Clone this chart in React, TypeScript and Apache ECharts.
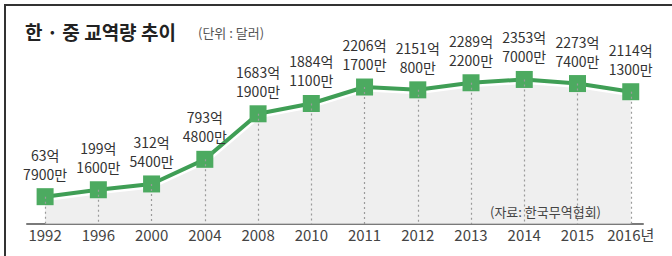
import React, { useEffect, useRef } from "react";
import * as echarts from "echarts";

const years = ["1992", "1996", "2000", "2004", "2008", "2010", "2011", "2012", "2013", "2014", "2015", "2016년"];
const eok = [63, 199, 312, 793, 1683, 1884, 2206, 2151, 2289, 2353, 2273, 2114];
const man = [7900, 1600, 5400, 4800, 1900, 1100, 1700, 800, 2200, 7000, 7400, 1300];
const title = "한 · 중 교역량 추이";
const unitText = "(단위 : 달러)";
const sourceText = "(자료: 한국무역협회)";

const KR = "'Noto Sans CJK KR', sans-serif";

export default function App() {
  const ref = useRef<HTMLDivElement>(null);
  useEffect(() => {
    if (!ref.current) return;
    const chart = echarts.init(ref.current, null, { renderer: "svg" });
    const values = eok.map((e, i) => e + man[i] / 10000);
    const pts = values.map((v, i) => [i, v]);
    const yMin = -470;
    chart.setOption({
      animation: false,
      backgroundColor: "#ffffff",
      grid: { left: 27, right: 29, top: 30, bottom: 32 },
      xAxis: {
        type: "value",
        min: -0.34,
        max: 11.23,
        axisLine: { show: true, onZero: false, lineStyle: { color: "#7a7a7a", width: 2 } },
        axisTick: { show: false },
        splitLine: { show: false },
        axisLabel: {
          customValues: years.map((_, i) => i),
          formatter: (v: number) => years[Math.round(v)] ?? "",
          color: "#444",
          fontSize: 15,
          fontFamily: KR,
          margin: 3,
        },
      },
      yAxis: {
        type: "value",
        min: yMin,
        max: 3320,
        show: false,
        splitLine: { show: false },
      },
      graphic: [
        {
          type: "rect",
          shape: { x: 5, y: 5, width: 720, height: 300 },
          style: { fill: "none", stroke: "#333", lineWidth: 2 },
          z: 10,
        },
        {
          type: "text",
          x: 25,
          y: 31,
          style: { text: title, font: `bold 19px ${KR}`, fill: "#222", verticalAlign: "middle" },
        },
        {
          type: "text",
          x: 198,
          y: 32,
          style: { text: unitText, font: `13px ${KR}`, fill: "#555", verticalAlign: "middle" },
        },
        {
          type: "text",
          x: 490,
          y: 211,
          style: { text: sourceText, font: `13px ${KR}`, fill: "#444", verticalAlign: "middle" },
          z: 20,
        },
      ],
      series: [
        {
          type: "line",
          data: pts,
          symbol: "none",
          lineStyle: { color: "#ffffff", width: 9 },
          areaStyle: { color: "#e8e8e8", origin: "start" },
          silent: true,
          z: 1,
          markLine: {
            silent: true,
            symbol: "none",
            label: { show: false },
            lineStyle: { color: "#9a9a9a", type: [2, 3], width: 1.2 },
            data: pts.map((p) => [{ coord: [p[0], p[1]] }, { coord: [p[0], yMin] }]),
          },
        },
        {
          type: "line",
          data: pts,
          symbol: "rect",
          symbolSize: 17,
          itemStyle: { color: "#4caa60" },
          lineStyle: { color: "#3f9e55", width: 4 },
          z: 3,
          label: {
            show: true,
            position: "top",
            distance: 5,
            formatter: (p: any) => `${eok[p.dataIndex]}억\n${man[p.dataIndex]}만`,
            color: "#333",
            fontSize: 14,
            lineHeight: 19,
            fontFamily: KR,
          },
        },
      ],
    });
    return () => chart.dispose();
  }, []);
  return (
    <div
      ref={ref}
      style={{ position: "absolute", left: 0, top: 0, width: 672, height: 256 }}
    />
  );
}
